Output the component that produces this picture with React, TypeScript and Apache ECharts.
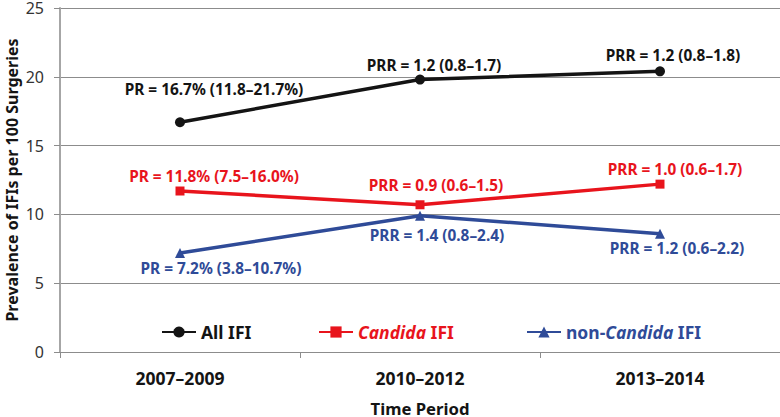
import React, { useEffect, useRef } from "react";
import * as echarts from "echarts";

const categories = ["2007–2009", "2010–2012", "2013–2014"];
const allIFI = [16.7, 19.8, 20.4];
const candidaIFI = [11.7, 10.7, 12.2];
const nonCandidaIFI = [7.2, 9.9, 8.6];
const allLabels = ["PR = 16.7% (11.8–21.7%)", "PRR = 1.2 (0.8–1.7)", "PRR = 1.2 (0.8–1.8)"];
const candidaLabels = ["PR = 11.8% (7.5–16.0%)", "PRR = 0.9 (0.6–1.5)", "PRR = 1.0 (0.6–1.7)"];
const nonCandidaLabels = ["PR = 7.2% (3.8–10.7%)", "PRR = 1.4 (0.8–2.4)", "PRR = 1.2 (0.6–2.2)"];

const allOffsets = [[34, -33], [14, -14], [13, -16]];
const candidaOffsets = [[34, -15], [16, -19], [15, -15]];
const nonCandidaOffsets = [[41, 16], [17, 20], [17, 15]];

const BLACK = "#141414";
const RED = "#e8141c";
const BLUE = "#2f4b98";
const FONT = "Noto Sans";
const LFS = 17.5;

function mkData(values: number[], labels: string[], offsets: number[][], color: string) {
  return values.map((v, i) => ({
    value: v,
    label: {
      show: true,
      position: "inside",
      formatter: labels[i],
      offset: offsets[i],
      color,
      fontFamily: FONT,
      fontWeight: "bold",
      fontSize: 15.4,
      align: "center",
      verticalAlign: "middle",
    },
  }));
}

export default function App() {
  const ref = useRef<HTMLDivElement>(null);
  useEffect(() => {
    if (!ref.current) return;
    const chart = echarts.init(ref.current, null, { renderer: "svg" });
    const legendBase = {
      top: 318,
      itemWidth: 34,
      itemHeight: 14,
      itemGap: 4,
      textStyle: { fontFamily: FONT, fontWeight: "bold", fontSize: LFS },
    };
    chart.setOption({
      animation: false,
      grid: { left: 60, right: 0, top: 8, bottom: 65, outerBoundsMode: "none", containLabel: false },
      legend: [
        {
          ...legendBase,
          left: 156,
          data: [{ name: "All IFI", textStyle: { color: BLACK } }],
        },
        {
          ...legendBase,
          left: 313,
          data: [{ name: "Candida IFI" }],
          formatter: () => "{ri|Candida}{r| IFI}",
          textStyle: {
            ...legendBase.textStyle,
            color: RED,
            rich: {
              ri: { color: RED, fontStyle: "italic", fontWeight: "bold", fontSize: LFS, fontFamily: FONT },
              r: { color: RED, fontWeight: "bold", fontSize: LFS, fontFamily: FONT },
            },
          },
        },
        {
          ...legendBase,
          left: 521,
          data: [{ name: "non-Candida IFI" }],
          formatter: () => "{b|non-}{bi|Candida}{b| IFI}",
          textStyle: {
            ...legendBase.textStyle,
            color: BLUE,
            rich: {
              bi: { color: BLUE, fontStyle: "italic", fontWeight: "bold", fontSize: LFS, fontFamily: FONT },
              b: { color: BLUE, fontWeight: "bold", fontSize: LFS, fontFamily: FONT },
            },
          },
        },
      ],
      xAxis: {
        type: "category",
        data: categories,
        boundaryGap: true,
        name: "Time Period",
        nameLocation: "middle",
        nameGap: 48,
        nameMoveOverlap: false,
        nameTextStyle: { fontFamily: FONT, fontWeight: "bold", fontSize: 16.7, color: BLACK },
        axisLine: { show: true, lineStyle: { color: "#8c8c8c", width: 1 } },
        axisTick: { show: true, length: 6, lineStyle: { color: "#8c8c8c" } },
        axisLabel: { fontFamily: FONT, fontWeight: "bold", fontSize: 17.5, color: BLACK, margin: 17 },
      },
      yAxis: {
        type: "value",
        min: 0,
        max: 25,
        interval: 5,
        name: "Prevalence of IFIs per 100 Surgeries",
        nameLocation: "middle",
        nameGap: 40,
        nameMoveOverlap: false,
        nameTextStyle: { fontFamily: FONT, fontWeight: "bold", fontSize: 16, color: BLACK },
        axisLine: { show: true, lineStyle: { color: "#a6a6a6", width: 2 } },
        axisTick: { show: true, length: 6, lineStyle: { color: "#8c8c8c" } },
        axisLabel: { fontFamily: FONT, fontSize: 16, color: "#333", margin: 16 },
        splitLine: { show: true, lineStyle: { color: "#8c8c8c", width: 1 } },
      },
      series: [
        {
          name: "All IFI",
          type: "line",
          data: mkData(allIFI, allLabels, allOffsets, BLACK),
          symbol: "circle",
          symbolSize: 10,
          lineStyle: { color: BLACK, width: 3.5 },
          itemStyle: { color: BLACK },
        },
        {
          name: "Candida IFI",
          type: "line",
          data: mkData(candidaIFI, candidaLabels, candidaOffsets, RED),
          symbol: "rect",
          symbolSize: 9,
          lineStyle: { color: RED, width: 3.5 },
          itemStyle: { color: RED },
        },
        {
          name: "non-Candida IFI",
          type: "line",
          data: mkData(nonCandidaIFI, nonCandidaLabels, nonCandidaOffsets, BLUE),
          symbol: "triangle",
          symbolSize: 10,
          lineStyle: { color: BLUE, width: 3.5 },
          itemStyle: { color: BLUE },
        },
      ],
    });
    return () => chart.dispose();
  }, []);
  return (
    <div
      ref={ref}
      style={{ position: "fixed", left: 0, top: 0, width: 780, height: 417, background: "#fff" }}
    />
  );
}
